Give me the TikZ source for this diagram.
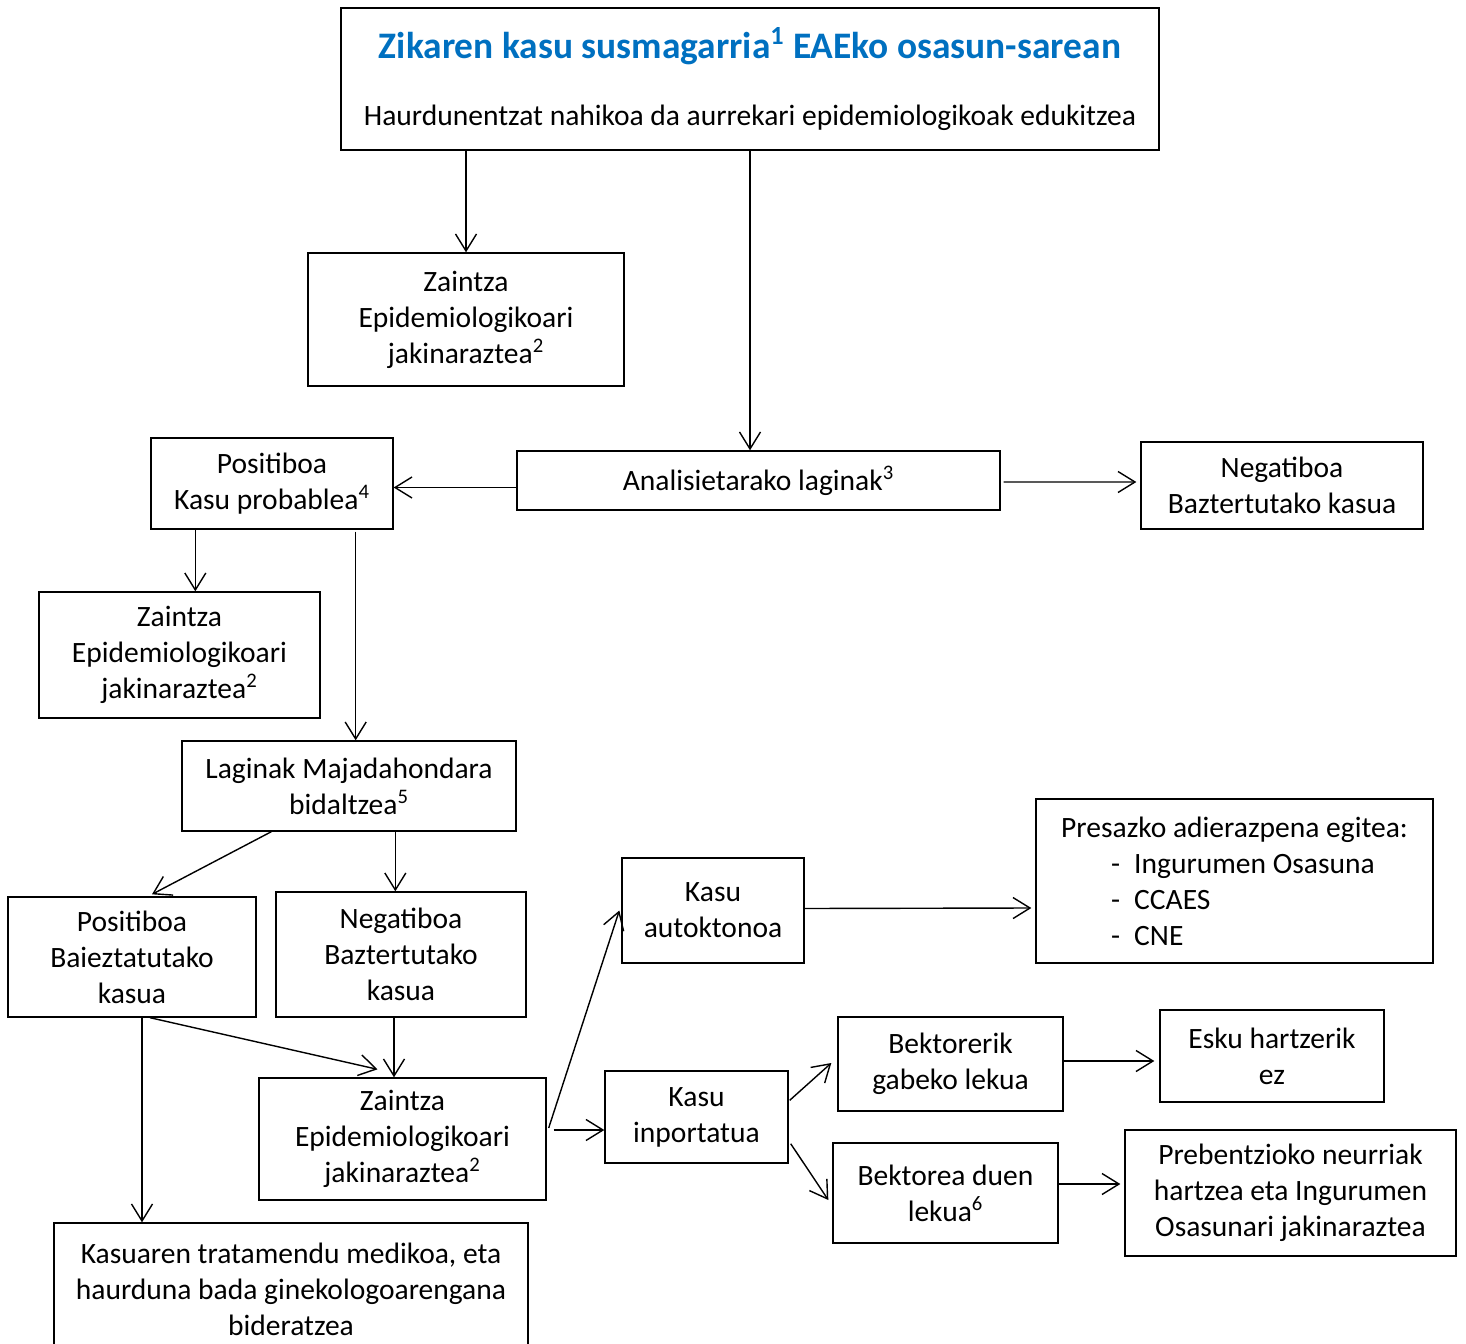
\documentclass[tikz,border=0pt]{standalone}
\usepackage{fontspec}
\setmainfont{Carlito}
\usetikzlibrary{arrows.meta}
\usetikzlibrary{calc}
\definecolor{titleblue}{RGB}{0,112,192}
\tikzset{
	box/.style={draw, line width=0.8pt, align=center, inner sep=0pt, font=\fontsize{16.8}{20.5}\selectfont},
	arr/.style={line width=0.8pt, -{Straight Barb[length=0.34cm, width=0.42cm]}}
}

\begin{document}
\begin{tikzpicture}[x=0.02cm, y=-0.02cm]
	\useasboundingbox (0, 0) rectangle (1466, 1344);

	\node[box, minimum width=16.36cm, minimum height=2.84cm] (top) at (750, 79) {{\fontsize{21.3}{22}\selectfont\bfseries\color{titleblue}Zikaren kasu susmagarria\textsuperscript{1} EAEko osasun-sarean}\\[0.62cm] Haurdunentzat nahikoa da aurrekari epidemiologikoak edukitzea};
	\node[box, minimum width=6.32cm, minimum height=2.66cm] (zaintzaA) at (466, 319.5) {Zaintza\\ Epidemiologikoari\\ jakinaraztea\textsuperscript{2}};
	\node[box, minimum width=9.66cm, minimum height=1.18cm] (analisi) at (758.5, 480.5) {Analisietarako laginak\textsuperscript{3}};
	\node[box, minimum width=4.84cm, minimum height=1.82cm] (pos1) at (272, 483.5) {Positiboa\\ Kasu probablea\textsuperscript{4}};
	\node[box, minimum width=5.64cm, minimum height=1.74cm] (neg1) at (1282, 485.5) {Negatiboa\\ Baztertutako kasua};
	\node[box, minimum width=5.62cm, minimum height=2.52cm] (zaintzaB) at (179.5, 655) {Zaintza\\ Epidemiologikoari\\ jakinaraztea\textsuperscript{2}};
	\node[box, minimum width=6.68cm, minimum height=1.8cm] (laginak) at (349, 786) {Laginak Majadahondara\\ bidaltzea\textsuperscript{5}};
	\node[box, minimum width=4.96cm, minimum height=2.4cm] (pos2) at (132, 957) {Positiboa\\ Baieztatutako\\ kasua};
	\node[box, minimum width=5cm, minimum height=2.5cm] (neg2) at (401, 954.5) {Negatiboa\\ Baztertutako\\ kasua};
	\node[box, minimum width=5.74cm, minimum height=2.44cm] (zaintzaC) at (402.5, 1139) {Zaintza\\ Epidemiologikoari\\ jakinaraztea\textsuperscript{2}};
	\node[box, minimum width=9.48cm, minimum height=2.64cm] (kasuaren) at (291, 1289) {Kasuaren tratamendu medikoa, eta\\ haurduna bada ginekologoarengana\\ bideratzea};
	\node[box, minimum width=3.64cm, minimum height=2.1cm] (autokt) at (713, 910.5) {Kasu\\ autoktonoa};
	\node[box, align=left, minimum width=7.94cm, minimum height=3.28cm] (presazko) at (1234.5, 881) {Presazko adierazpena egitea:\\ \hspace*{1cm}-\hspace{0.28cm}Ingurumen Osasuna\\ \hspace*{1cm}-\hspace{0.28cm}CCAES\\ \hspace*{1cm}-\hspace{0.28cm}CNE};
	\node[box, minimum width=3.66cm, minimum height=1.84cm] (inport) at (696.5, 1117) {Kasu\\ inportatua};
	\node[box, minimum width=4.5cm, minimum height=1.88cm] (bektA) at (950.5, 1064) {Bektorerik\\ gabeko lekua};
	\node[box, minimum width=4.48cm, minimum height=1.84cm] (esku) at (1272, 1056) {Esku hartzerik\\ ez};
	\node[box, minimum width=4.5cm, minimum height=2cm] (bektB) at (945.5, 1193) {Bektorea duen\\ lekua\textsuperscript{6}};
	\node[box, minimum width=6.62cm, minimum height=2.52cm] (preben) at (1290.5, 1193) {Prebentzioko neurriak\\ hartzea eta Ingurumen\\ Osasunari jakinaraztea};

	% geziak hasten diren puntuak
	\coordinate (p1a) at ($(pos1.south west)+(45, 0)$);
	\coordinate (p1b) at ($(pos1.south east)+(-38, 2)$);
	\coordinate (lgb) at ($(laginak.south west)+(214, 0)$);
	\coordinate (n2a) at ($(neg2.south)+(-7, 0)$);
	\coordinate (p2b) at ($(pos2.south)+(10, 0)$);

	% goiko kutxatik
	\draw[arr] (top.south -| zaintzaA.north) -- (zaintzaA.north);
	\draw[arr] (top.south) -- (top.south |- analisi.north);
	\draw[arr] ($(analisi.west)+(0, 7)$) -- ($(pos1.east)+(0, 4)$);
	\draw[arr] ($(analisi.east)+(3, 1.5)$) -- ($(neg1.west)+(-4, -3.5)$);

	% kasu probablea
	\draw[arr] (p1a) -- (p1a |- zaintzaB.north);
	\draw[arr] (p1b) -- (p1b |- laginak.north);
	\draw[arr] ($(laginak.south west)+(90, 0)$) -- ($(pos2.north)+(20, -2)$);
	\draw[arr] (lgb) -- (lgb |- neg2.north);
	\draw[arr] ($(pos2.south)+(18, 0)$) -- ($(zaintzaC.north)+(-25, -8)$);
	\draw[arr] (n2a) -- (n2a |- zaintzaC.north);
	\draw[arr] (p2b) -- (p2b |- kasuaren.north);

	% autoktonoa / inportatua
	\draw[arr] ($(zaintzaC.east)+(2, -11)$) -- ($(autokt.west)+(-2, 0)$);
	\draw[arr] ($(zaintzaC.east)+(7, -9)$) -- ($(inport.west)+(0, 13)$);
	\draw[arr] ($(autokt.east)+(0, -2)$) -- ($(presazko.west)+(-4, 27)$);
	\draw[arr] ($(inport.north east)+(1, 30)$) -- ($(bektA.west)+(-6, -1)$);
	\draw[arr] ($(inport.south east)+(2, -20)$) -- ($(bektB.west)+(-4, 7)$);
	\draw[arr] ($(bektA.east)+(0, -3)$) -- ($(esku.west)+(-5, 5)$);
	\draw[arr] ($(bektB.east)+(0, -9)$) -- ($(preben.west)+(-4, -9)$);
\end{tikzpicture}
\end{document}
